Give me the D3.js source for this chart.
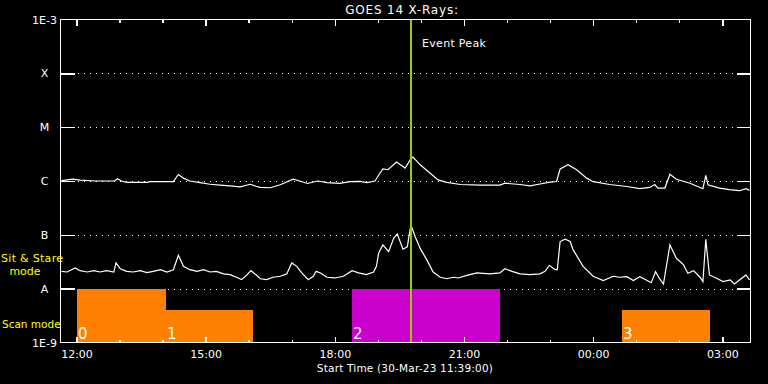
<!DOCTYPE html>
<html>
<head>
<meta charset="utf-8">
<script src="https://cdn.jsdelivr.net/npm/d3@7"></script>
<style>
  html, body { margin: 0; padding: 0; background: #000; }
  svg { display: block; }
  text { font-family: "DejaVu Sans", sans-serif; fill: #fff; }
</style>
</head>
<body>
<div id="chart"></div>
<script>
// GOES 14 x-ray flux, long channel (upper) and short channel (lower)
var longTimes = ["11:39","11:55","12:05","12:26","12:53","12:57","13:04","13:11","13:38","13:43","14:15","14:22","14:29","14:38","14:52","15:06","15:20","15:34","15:48","16:02","16:10","16:16","16:30","16:44","17:02","17:11","17:22","17:36","17:49","18:07","18:21","18:35","18:45","18:56","19:03","19:07","19:14","19:26","19:38","19:45","19:49","19:59","20:10","20:24","20:36","20:55","21:22","21:50","21:57","22:18","22:32","22:46","23:00","23:09","23:14","23:25","23:37","23:51","00:00","00:23","00:47","01:05","01:19","01:26","01:30","01:40","01:47","01:56","02:15","02:33","02:37","02:40","02:56","03:10","03:24","03:33","03:38"]
var longFlux = [1.02e-6,1.08e-6,1.04e-6,1.0e-6,1.0e-6,1.1e-6,0.98e-6,0.94e-6,0.94e-6,0.97e-6,0.97e-6,1.32e-6,1.13e-6,1.0e-6,0.93e-6,0.87e-6,0.84e-6,0.81e-6,0.78e-6,0.87e-6,0.8e-6,0.76e-6,0.75e-6,0.85e-6,1.08e-6,1.0e-6,0.9e-6,1.0e-6,0.93e-6,0.9e-6,0.97e-6,0.98e-6,0.93e-6,1.0e-6,1.41e-6,1.67e-6,1.62e-6,2.26e-6,1.74e-6,2.47e-6,2.78e-6,2.0e-6,1.5e-6,1.05e-6,0.94e-6,0.86e-6,0.84e-6,0.84e-6,0.91e-6,0.86e-6,0.81e-6,0.88e-6,0.95e-6,0.98e-6,1.67e-6,2.0e-6,1.62e-6,1.13e-6,0.97e-6,0.86e-6,0.79e-6,0.72e-6,0.76e-6,0.86e-6,0.74e-6,0.74e-6,1.33e-6,1.08e-6,0.91e-6,0.72e-6,1.27e-6,0.85e-6,0.74e-6,0.69e-6,0.66e-6,0.72e-6,0.67e-6]

var shortTimes = ["11:39","11:47","11:58","12:05","12:15","12:24","12:33","12:42","12:52","12:55","13:01","13:10","13:19","13:29","13:38","13:47","13:57","14:06","14:15","14:22","14:29","14:38","14:48","14:57","15:06","15:15","15:25","15:34","15:43","15:50","15:57","16:03","16:11","16:16","16:25","16:34","16:44","16:53","17:00","17:07","17:14","17:23","17:30","17:34","17:40","17:49","18:00","18:12","18:24","18:33","18:44","18:54","18:58","19:01","19:07","19:15","19:22","19:27","19:35","19:41","19:46","19:52","19:59","20:08","20:17","20:27","20:36","20:45","20:52","21:04","21:18","21:36","21:50","21:57","22:07","22:18","22:32","22:46","22:53","22:59","23:07","23:10","23:14","23:21","23:28","23:32","23:46","00:00","00:14","00:28","00:37","00:47","00:56","01:05","01:14","01:21","01:27","01:33","01:38","01:47","01:56","02:06","02:12","02:20","02:29","02:33","02:37","02:42","02:52","03:01","03:11","03:17","03:24","03:33","03:38"]
var shortFlux = [2.10e-8,2.04e-8,2.42e-8,2.16e-8,2.04e-8,2.16e-8,2.04e-8,2.16e-8,2.04e-8,3.0e-8,2.35e-8,2.10e-8,2.04e-8,2.16e-8,1.98e-8,2.10e-8,2.25e-8,2.04e-8,2.25e-8,4.17e-8,2.6e-8,2.25e-8,2.10e-8,2.25e-8,2.04e-8,2.10e-8,1.88e-8,1.82e-8,1.63e-8,1.47e-8,1.77e-8,2.16e-8,1.77e-8,1.53e-8,1.47e-8,1.63e-8,1.70e-8,1.88e-8,3.0e-8,2.6e-8,1.96e-8,1.47e-8,1.70e-8,2.10e-8,1.96e-8,1.63e-8,1.58e-8,1.70e-8,2.16e-8,1.96e-8,1.82e-8,2.04e-8,2.6e-8,4.55e-8,6.5e-8,4.87e-8,8.6e-8,1.04e-7,5.4e-8,6.0e-8,1.53e-7,9.2e-8,5.6e-8,3.46e-8,2.04e-8,1.63e-8,1.53e-8,1.63e-8,1.58e-8,1.77e-8,1.96e-8,1.88e-8,1.96e-8,2.35e-8,2.10e-8,1.88e-8,1.82e-8,1.88e-8,2.10e-8,2.72e-8,2.25e-8,2.25e-8,7.5e-8,8.3e-8,7.5e-8,5.3e-8,2.6e-8,1.70e-8,1.41e-8,1.70e-8,1.63e-8,1.67e-8,1.41e-8,1.67e-8,1.45e-8,1.29e-8,2.07e-8,1.50e-8,1.22e-8,6.5e-8,3.67e-8,2.76e-8,1.93e-8,2.16e-8,1.63e-8,1.35e-8,8.3e-8,1.80e-8,1.56e-8,1.35e-8,1.45e-8,1.22e-8,1.45e-8,1.80e-8,1.45e-8]

// rasters along the bottom
var rasterStart = ["12:00","14:05","18:24","00:40"]
var rasterEnd   = ["14:05","16:06","21:50","02:43"]
var rasterTop   = [1e-8,4e-9,1e-8,4e-9]
var rasterKind  = ["scan","scan","peak","scan"]

var classLabels = ["1E-9","A","B","C","M","X","1E-3"]
var classValues = [1e-9,1e-8,1e-7,1e-6,1e-5,1e-4,1e-3]

var eventPeak = "19:46"
var startLabel = "Start Time (30-Mar-23 11:39:00)"

var width = 768, height = 384
var pL = 60.5, pR = 750.5, pT = 19.5, pB = 342.5

var parseT = s => {
  var p = s.split(':').map(Number)
  var d = new Date(2023, 2, 30, p[0], p[1])
  if (p[0] < 11) d.setDate(31)
  return d
}

var x = d3.scaleTime()
  .domain([parseT("11:37"), parseT("03:40")])
  .range([pL - 0.5, pR + 0.5])

var y = d3.scaleLog()
  .domain([1e-9, 1e-3])
  .range([pB, pT])

var svg = d3.select('#chart')
  .append('svg')
  .attr('width', width)
  .attr('height', height)

svg.append('rect').attr('width', width).attr('height', height).attr('fill', '#000')

// dotted grid at the class levels
svg.append('g').selectAll('line')
  .data(classValues.slice(1, 6))
  .enter().append('line')
  .attr('x1', pL + 17).attr('x2', pR - 14)
  .attr('y1', d => Math.round(y(d)) + 0.5).attr('y2', d => Math.round(y(d)) + 0.5)
  .attr('stroke', '#fff').attr('stroke-dasharray', '1,5')
  .attr('shape-rendering', 'crispEdges')

// raster bars
var barColor = { scan: '#ff8000', peak: '#cc00cc' }
var bars = svg.append('g')
rasterStart.forEach((s, i) => {
  var x0 = Math.round(x(parseT(s))), x1 = Math.round(x(parseT(rasterEnd[i])))
  var yt = Math.round(y(rasterTop[i]))
  bars.append('rect')
    .attr('x', x0).attr('y', yt)
    .attr('width', x1 - x0).attr('height', pB - yt)
    .attr('fill', barColor[rasterKind[i]])
  bars.append('text')
    .attr('x', x0 + 1).attr('y', 338.5)
    .attr('font-size', 15)
    .style('fill', '#fff')
    .text(i)
})

// flux curves
var line = d3.line().x(d => x(d[0])).y(d => y(d[1]))
var curves = [
  longTimes.map((t, i) => [parseT(t), longFlux[i]]),
  shortTimes.map((t, i) => [parseT(t), shortFlux[i]])
]
svg.append('g').selectAll('path')
  .data(curves)
  .enter().append('path')
  .attr('d', line)
  .attr('fill', 'none')
  .attr('stroke', '#fff')
  .attr('stroke-width', 1.2)

// event peak marker
var xp = Math.round(x(parseT(eventPeak)))
svg.append('line')
  .attr('x1', xp).attr('x2', xp).attr('y1', pT).attr('y2', pB)
  .attr('stroke', '#99cc00').attr('stroke-width', 2)
svg.append('text')
  .attr('x', xp + 11).attr('y', 47)
  .attr('font-size', 11).attr('letter-spacing', 0.3)
  .text('Event Peak')

// box
svg.append('rect')
  .attr('x', pL).attr('y', pT)
  .attr('width', pR - pL).attr('height', pB - pT)
  .attr('fill', 'none').attr('stroke', '#fff').attr('stroke-width', 1.5)
  .attr('shape-rendering', 'crispEdges')

// time ticks, bottom and top
var major = d3.timeHour.every(3), minor = d3.timeHour.every(1)
svg.append('g').attr('transform', `translate(0,${pB})`)
  .call(d3.axisBottom(x).ticks(minor).tickSize(-3).tickFormat(''))
svg.append('g').attr('transform', `translate(0,${pB})`)
  .call(d3.axisBottom(x).ticks(major).tickSize(-6).tickPadding(8).tickFormat(d3.timeFormat('%H:%M')))
svg.append('g').attr('transform', `translate(0,${pT})`)
  .call(d3.axisTop(x).ticks(minor).tickSize(-3).tickFormat(''))
svg.append('g').attr('transform', `translate(0,${pT})`)
  .call(d3.axisTop(x).ticks(major).tickSize(-6).tickFormat(''))

// class ticks, left and right
var yl = svg.append('g').attr('transform', `translate(${pL},0)`)
  .call(d3.axisLeft(y).tickValues(classValues).tickSize(-14).tickPadding(16)
    .tickFormat((d, i) => classLabels[i]))
svg.append('g').attr('transform', `translate(${pR},0)`)
  .call(d3.axisRight(y).tickValues(classValues.slice(1, 6)).tickSize(-14).tickFormat(''))

svg.selectAll('.domain').remove()
svg.selectAll('.tick line').attr('stroke', '#fff').attr('stroke-width', 1.5)
  .attr('shape-rendering', 'crispEdges')
svg.selectAll('.tick text').attr('fill', '#fff').attr('font-family', '"DejaVu Sans", sans-serif')
  .attr('font-size', 11)
yl.selectAll('.tick text').attr('text-anchor', 'middle').attr('x', -16)
yl.selectAll('.tick line').filter(d => d === 1e-9 || d === 1e-3).remove()

// titles
svg.append('text')
  .attr('x', 402).attr('y', 13.5).attr('text-anchor', 'middle')
  .attr('font-size', 12).attr('letter-spacing', 0.8)
  .text('GOES 14 X-Rays:')
svg.append('text')
  .attr('x', 405).attr('y', 372).attr('text-anchor', 'middle')
  .attr('font-size', 10.5).attr('letter-spacing', 0.2)
  .text(startLabel)

// mode labels
var modes = svg.append('g').attr('font-size', 11)
modes.append('text').attr('x', 1).attr('y', 262).attr('letter-spacing', 0.3).style('fill', '#ffff00').text('Sit & Stare')
modes.append('text').attr('x', 25).attr('y', 275).attr('text-anchor', 'middle').style('fill', '#ffff00').text('mode')
modes.append('text').attr('x', 2).attr('y', 328).attr('font-size', 10.5).style('fill', '#ffff00').text('Scan mode')
</script>
</body>
</html>
